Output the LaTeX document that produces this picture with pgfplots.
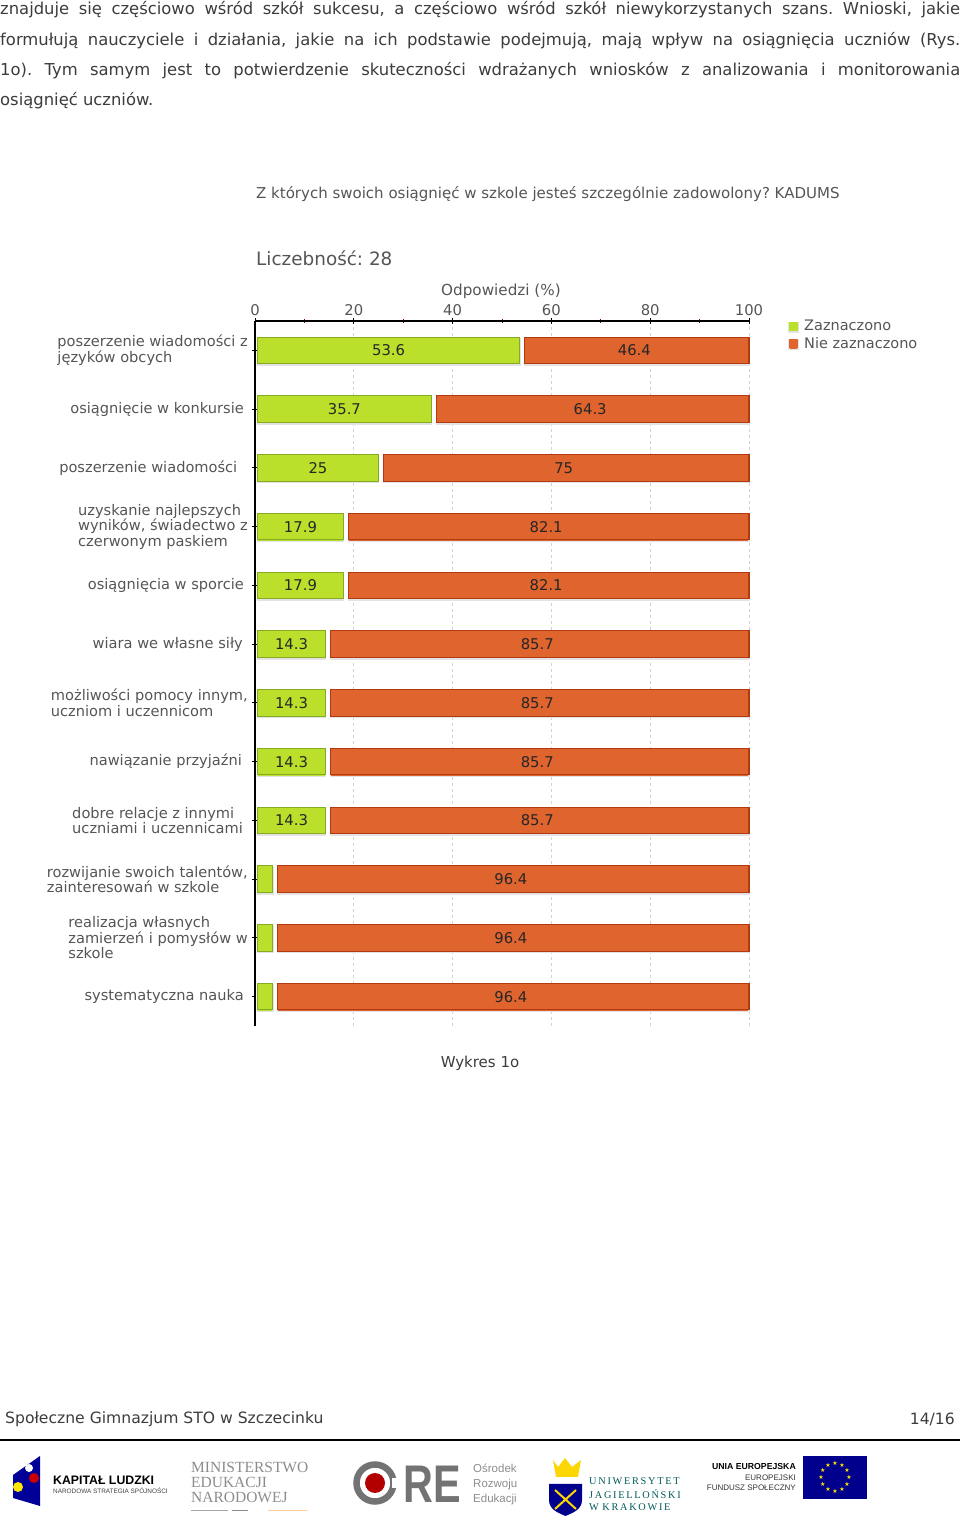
\documentclass[border=0pt]{standalone}
\usepackage{fontspec}
\usepackage{pgfplots}
\usepackage{pgfplotstable}
\pgfplotsset{compat=1.18}
\setmainfont{DejaVu Sans}
\newfontfamily\serifl{Liberation Serif}
\newfontfamily\sansn{Liberation Sans}
\definecolor{gf}{RGB}{186,224,43}
\definecolor{ge}{RGB}{135,170,35}
\definecolor{of}{RGB}{224,100,46}
\definecolor{oe}{RGB}{178,58,16}
\definecolor{txt}{RGB}{85,85,85}
\definecolor{body}{RGB}{60,60,60}
\pgfplotstableread{
idx green orange glab olab
0 53.6 46.4 53.6 46.4
1 35.7 64.3 35.7 64.3
2 25 75 25 75
3 17.9 82.1 17.9 82.1
4 17.9 82.1 17.9 82.1
5 14.3 85.7 14.3 85.7
6 14.3 85.7 14.3 85.7
7 14.3 85.7 14.3 85.7
8 14.3 85.7 14.3 85.7
9 3.6 96.4 {} 96.4
10 3.6 96.4 {} 96.4
11 3.6 96.4 {} 96.4
}\chartdata
\newcommand\fs[1]{\fontsize{#1}{#1}\selectfont}
\newcommand\K[1]{\hspace*{#1pt}}
\begin{document}
\frenchspacing
\begin{tikzpicture}
\useasboundingbox (0,0) rectangle (960pt,1528pt);
\begin{axis}[
  at={(255pt,502pt)}, anchor=south west,
  scale only axis, width=494pt, height=705pt,
  xmin=0, xmax=100, ymin=-0.5, ymax=11.5,
  y dir=reverse,
  axis x line*=top, axis y line*=left,
  axis line style={black,line width=1.4pt},
  xbar stacked, bar width=26.5pt,
  xtick={0,20,40,60,80,100},
  minor xtick={10,30,50,70,90},
  ytick={0,...,11},
  yticklabels={
    {poszerzenie wiadomości z\\języków obcych},
    {osiągnięcie w konkursie\K{4}},
    {poszerzenie wiadomości\K{10.5}},
    {uzyskanie najlepszych\\wyników, świadectwo z\\czerwonym paskiem},
    {osiągnięcia w sporcie\K{4}},
    {wiara we własne siły\K{5}},
    {możliwości pomocy innym,\\uczniom i uczennicom},
    {nawiązanie przyjaźni\K{6}},
    {dobre relacje z innymi\\uczniami i uczennicami\K{5}},
    {rozwijanie swoich talentów,\\zainteresowań w szkole},
    {realizacja własnych\\zamierzeń i pomysłów w\K{1}\\szkole},
    {systematyczna nauka\K{4}}},
  yticklabel style={align=left,font=\fontsize{14.6}{15.5}\selectfont,text=txt,anchor=east,xshift=-4pt,inner sep=0pt},
  xticklabel style={font=\fs{14.8},text=txt,yshift=-1pt},
  /pgf/number format/assume math mode=true,
  x tick style={black,line width=1pt},
  y tick style={black,line width=1pt,shorten >=3pt},
  minor x tick style={red!60!black,line width=0.8pt},
  major tick length=6pt, minor tick length=4pt,
  xtick align=center, ytick align=center,
  xmajorgrids,
  major x grid style={dashed,gray!35,line width=0.8pt},
  legend cell align=left,
  legend style={at={(rel axis cs:1.0,1)},anchor=north west,xshift=38pt,yshift=5pt,draw=none,fill=none,
    font=\fs{14.5},text=txt,row sep=1pt,inner sep=2pt},
  legend image code/.code={\fill[#1,draw=none] (0cm,-4.5pt) rectangle (9pt,4.5pt);},
  point meta=explicit symbolic,
  clip=false,
]
\addplot[draw=none,fill=none,forget plot] table[x expr=0.5,y=idx]{\chartdata};
\addplot[draw=ge,fill=gf,line width=1.2pt,
  preaction={draw=gray!22,line width=1.5pt,transform canvas={yshift=-1.5pt}},
  nodes near coords,nodes near coords style={font=\fs{14.8},text=black!85,anchor=center}]
  table[x expr=\thisrow{green}-0.5,y=idx,meta=glab]{\chartdata};
\addlegendentry{\hspace{4pt}Zaznaczono}
\addplot[draw=none,fill=none,forget plot] table[x expr=1,y=idx]{\chartdata};
\addplot[draw=oe,fill=of,line width=1.2pt,
  preaction={draw=gray!22,line width=1.5pt,transform canvas={yshift=-1.5pt}},
  nodes near coords,nodes near coords style={font=\fs{14.8},text=black!85,anchor=center,xshift=-2.5pt}]
  table[x expr=\thisrow{orange}-1,y=idx,meta=olab]{\chartdata};
\addlegendentry{\hspace{4pt}Nie zaznaczono}
\end{axis}
\begin{scope}[x=1pt,y=-1pt,yshift=1528pt]
% page text
\node[anchor=west,inner sep=0pt,text=body] at (0,10) {\fs{16.4}\makebox[960pt][s]{znajduje się częściowo wśród szkół sukcesu, a częściowo wśród szkół niewykorzystanych  szans. Wnioski, jakie}};
\node[anchor=west,inner sep=0pt,text=body] at (0,41) {\fs{16.4}\makebox[960pt][s]{formułują nauczyciele i działania, jakie na ich podstawie podejmują, mają wpływ na osiągnięcia uczniów (Rys.}};
\node[anchor=west,inner sep=0pt,text=body] at (0,71) {\fs{16.4}\makebox[960pt][s]{1o). Tym samym jest to potwierdzenie skuteczności wdrażanych wniosków z analizowania i monitorowania}};
\node[anchor=west,inner sep=0pt,text=body] at (0,101) {\fs{16.4}osiągnięć uczniów.};
% chart titles
\node[anchor=west,inner sep=0pt,text=txt] at (256,194) {\fs{15}Z których swoich osiągnięć w szkole jesteś szczególnie zadowolony? KADUMS};
\node[anchor=west,inner sep=0pt,text=txt] at (256,258) {\fs{18.4}Liczebność: 28};
\node[anchor=center,inner sep=0pt,text=txt] at (501,291) {\fs{15.2}Odpowiedzi (\%)};
\node[anchor=center,inner sep=0pt,text=body] at (480,1063) {\fs{15}Wykres 1o};
% footer
\node[anchor=west,inner sep=0pt,text=body] at (5,1419) {\fs{15.6}Społeczne Gimnazjum STO w Szczecinku};
\node[anchor=east,inner sep=0pt,text=body] at (955,1419) {\fs{15.6}14/16};
\fill[black] (0,1439.5) rectangle (960,1441.5);
% Kapitał Ludzki
\fill[blue!60!black] (13,1475) -- (40,1456) -- (40,1506) -- (13,1498) -- cycle;
\fill[red!80!black] (34,1478) circle (5);
\fill[yellow!90!orange] (18,1487) circle (5);
\fill[white] (29,1468) circle (4);
\node[anchor=west,inner sep=0pt] at (53,1480) {\sansn\bfseries\fs{12.3}KAPITAŁ LUDZKI};
\node[anchor=west,inner sep=0pt,text=black!75] at (53,1491) {\sansn\fs{6.4}NARODOWA STRATEGIA SPÓJNOŚCI};
% MEN
\node[anchor=west,inner sep=0pt,text=black!45] at (191,1467) {\serifl\fs{15.5}MINISTERSTWO};
\node[anchor=west,inner sep=0pt,text=black!45] at (191,1482) {\serifl\fs{15.5}EDUKACJI};
\node[anchor=west,inner sep=0pt,text=black!45] at (191,1497) {\serifl\fs{15.5}NARODOWEJ};
\draw[black!35,line width=1pt] (191,1511) -- (228,1511);
\draw[orange!40,line width=1pt] (268,1511) -- (307,1511);
\draw[black!45,line width=1pt] (232,1511) -- (248,1511);
% ORE
\draw[black!55,line width=6.5pt] (375,1483) circle (18.5);
\fill[white] (392,1478) rectangle (399,1488);
\fill[red!70!black] (375,1483) circle (10);
\node[anchor=west,inner sep=0pt,text=black!55] at (403,1484) {\scalebox{0.78}[1]{\sansn\bfseries\fs{53}RE}};
\node[anchor=west,inner sep=0pt,text=black!45] at (473,1468) {\sansn\fs{11.5}Ośrodek};
\node[anchor=west,inner sep=0pt,text=black!45] at (473,1485) {\sansn\fs{11.5}Rozwoju};
\node[anchor=west,inner sep=0pt,text=black!45] at (473,1500) {\sansn\fs{11.5}Edukacji};
% UJ
\fill[yellow!75!orange] (553,1460) -- (558,1467) -- (565,1458) -- (572,1467) -- (581,1460) -- (578,1477) -- (556,1477) -- cycle;
\fill[blue!55!black] (549,1484) -- (582,1484) -- (582,1500) .. controls (582,1510) and (572,1513) .. (565.5,1516) .. controls (559,1513) and (549,1510) .. (549,1500) -- cycle;
\draw[yellow!75!orange,line width=2pt] (555,1490) -- (576,1509) (576,1490) -- (555,1509);
\node[anchor=west,inner sep=0pt,text=teal!70!black] at (589,1481) {\serifl\fs{10.3}U\,N\,I\,W\,E\,R\,S\,Y\,T\,E\,T};
\node[anchor=west,inner sep=0pt,text=teal!70!black] at (589,1494) {\serifl\fs{10.3}J\,A\,G\,I\,E\,L\,L\,O\,Ń\,S\,K\,I};
\node[anchor=west,inner sep=0pt,text=teal!70!black] at (589,1507) {\serifl\fs{10.3}W\,\,K\,R\,A\,K\,O\,W\,I\,E};
% EU
\node[anchor=east,inner sep=0pt] at (796,1467) {\sansn\bfseries\fs{8.7}UNIA EUROPEJSKA};
\node[anchor=east,inner sep=0pt,text=black!80] at (796,1478) {\sansn\fs{8}EUROPEJSKI};
\node[anchor=east,inner sep=0pt,text=black!80] at (796,1488) {\sansn\fs{8}FUNDUSZ SPOŁECZNY};
\fill[blue!55!black] (803,1456) rectangle (867,1499);
\foreach \a in {0,30,...,330}
  \node[text=yellow!90!orange,inner sep=0pt] at ({835+14*cos(\a)},{1477.5+14*sin(\a)}) {\fs{6}★};
\end{scope}
\end{tikzpicture}
\end{document}
